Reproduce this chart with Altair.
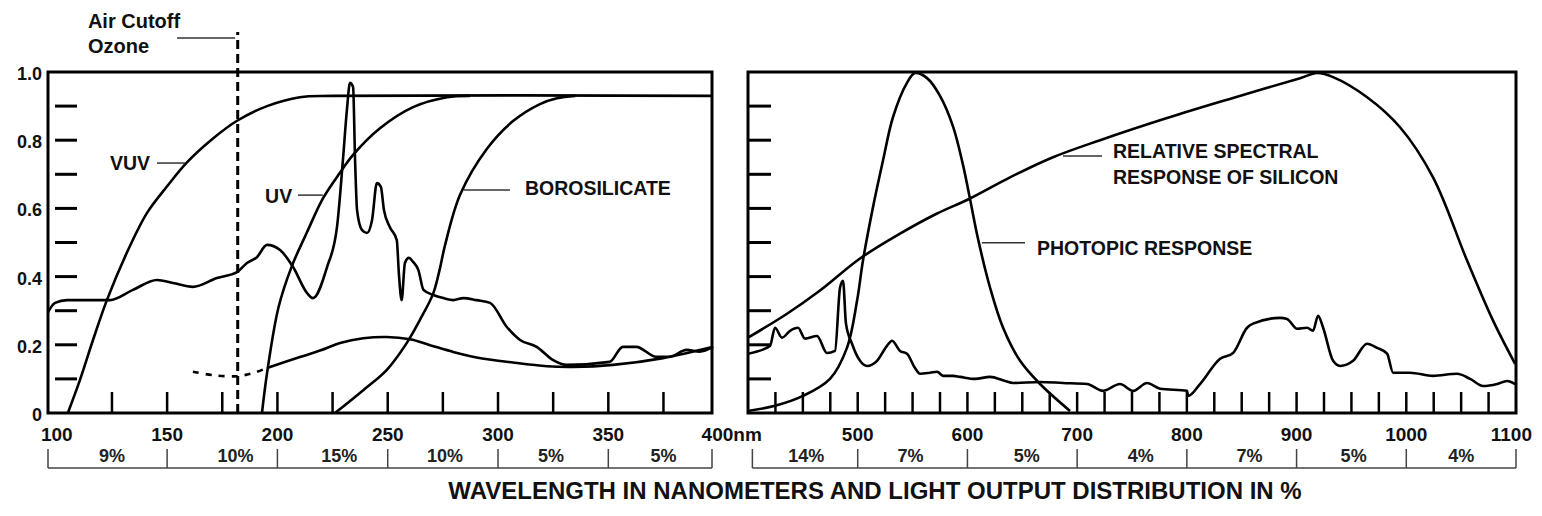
import altair as alt
import pandas as pd

FONT = "Liberation Sans"

# ---------------- data ----------------
# Left panel (wavelength in nm, relative value)
vuv_nm = [105, 110.5, 116.4, 122.7, 132.3, 140.9, 150, 159, 170.8, 181.7, 195.3, 210.2, 225.2, 397]
vuv_val = [0, 0.097, 0.214, 0.331, 0.478, 0.587, 0.665, 0.735, 0.805, 0.857, 0.9, 0.926, 0.93, 0.93]

uv_nm = [193, 195.3, 200.5, 206.5, 213.4, 220.7, 228.4, 234.3, 246.5, 261.5, 276.9, 287.3]
uv_val = [0, 0.117, 0.31, 0.43, 0.53, 0.63, 0.705, 0.757, 0.835, 0.897, 0.926, 0.93]

boro_nm = [226.1, 238.9, 249.5, 258.6, 264.6, 270.6, 273.7, 275.9, 282.8, 295, 306.8, 319, 326.7, 335]
boro_val = [0, 0.067, 0.126, 0.205, 0.273, 0.35, 0.425, 0.49, 0.64, 0.775, 0.856, 0.906, 0.923, 0.93]

lamp_l_nm = [96, 99.2, 104.6, 116.4, 124.1, 134.5, 145.4, 152.7, 161.7, 172.6, 181.7, 186.2, 190.7,
             195.3, 201.2, 207.1, 213.4, 216.1, 222.5, 227, 229.7, 231.5, 232.9, 234.3, 235.2, 236.1,
             238.3, 240.6, 242.9, 245.1, 246.9, 248.3, 251, 254.1, 255.1, 256.3, 257.8, 259.6, 261.5,
             263.9, 266.2, 270.7, 275.2, 279.7, 284.3, 290.3, 296.4, 303.9, 310, 317.5, 325, 331.1,
             350.6, 356.6, 362.7, 371.7, 377.7, 385.5, 391.4, 397.5]
lamp_l_val = [0.296, 0.323, 0.331, 0.331, 0.331, 0.361, 0.39, 0.381, 0.37, 0.396, 0.413, 0.44, 0.457,
              0.493, 0.478, 0.428, 0.352, 0.337, 0.428, 0.545, 0.742, 0.889, 0.968, 0.956, 0.742, 0.595,
              0.537, 0.528, 0.566, 0.674, 0.663, 0.595, 0.545, 0.507, 0.405, 0.331, 0.44, 0.455, 0.443,
              0.419, 0.361, 0.346, 0.337, 0.331, 0.337, 0.331, 0.323, 0.253, 0.214, 0.194, 0.155, 0.141,
              0.15, 0.194, 0.194, 0.165, 0.165, 0.185, 0.18, 0.194]

trans_dot_nm = [161.7, 170.8, 181.7, 188.9, 195.3]
trans_dot_val = [0.121, 0.111, 0.108, 0.117, 0.132]
trans_nm = [195.3, 210.2, 219.3, 228.4, 238.9, 249.5, 260.1, 269.2, 279.7, 290.3, 306.8, 322.2, 334,
            352.1, 374.8, 397.5]
trans_val = [0.132, 0.164, 0.183, 0.205, 0.219, 0.223, 0.216, 0.199, 0.179, 0.163, 0.148, 0.137, 0.135,
             0.141, 0.161, 0.194]

ozone_cutoff_nm = 182

# Right panel
photopic_nm = [400, 424.6, 450.1, 474.7, 490.2, 499.4, 504.8, 513.9, 523.1, 532.2, 544.9, 552.2, 563.2,
               575, 586.9, 596, 602.4, 609.7, 620.6, 632.5, 648, 666.2, 693.5]
photopic_val = [0.006, 0.021, 0.05, 0.1, 0.191, 0.329, 0.447, 0.603, 0.741, 0.868, 0.968, 0.997, 0.982,
                0.93, 0.84, 0.727, 0.627, 0.51, 0.368, 0.25, 0.153, 0.085, 0.006]

silicon_nm = [400, 435.6, 465.6, 502.1, 538.6, 572.3, 602.4, 638.8, 678, 720.9, 781.9, 842.1, 903.2,
              918.7, 933.3, 964.3, 994.3, 1024.4, 1055.4, 1079.1, 1099.2]
silicon_val = [0.221, 0.291, 0.359, 0.453, 0.526, 0.585, 0.629, 0.691, 0.75, 0.8, 0.865, 0.924, 0.982,
               0.997, 0.985, 0.926, 0.838, 0.691, 0.447, 0.271, 0.144]

lamp_r_nm = [400, 420.1, 424.6, 431, 438.3, 445.6, 452, 462.9, 472, 479.3, 483.9, 486.6, 489.3, 494.8,
             502.1, 508.5, 517.6, 526.7, 531.3, 538.6, 544.9, 552.2, 556.8, 565.9, 572.3, 577.8, 586.9,
             593.3, 606.9, 620.6, 634.3, 641.6, 666.2, 687.1, 709, 723.6, 739.1, 751, 763.7, 775.6,
             800.2, 801.1, 812, 830.3, 842.1, 854.9, 860.3, 885, 891.3, 900.5, 909.6, 915, 919.6, 924.2,
             933.3, 939.7, 951.5, 964.3, 973.4, 982.5, 988, 1003.5, 1024.4, 1046.3, 1058.2, 1070,
             1082.8, 1091.9, 1099.2]
lamp_r_val = [0.174, 0.197, 0.25, 0.221, 0.241, 0.25, 0.218, 0.226, 0.176, 0.182, 0.368, 0.388, 0.262,
              0.203, 0.153, 0.138, 0.153, 0.197, 0.212, 0.182, 0.174, 0.132, 0.115, 0.118, 0.121, 0.109,
              0.109, 0.106, 0.1, 0.106, 0.094, 0.088, 0.091, 0.088, 0.085, 0.065, 0.085, 0.065, 0.088,
              0.071, 0.065, 0.05, 0.085, 0.159, 0.176, 0.25, 0.262, 0.279, 0.276, 0.247, 0.25, 0.241,
              0.285, 0.25, 0.153, 0.138, 0.153, 0.203, 0.191, 0.174, 0.118, 0.118, 0.109, 0.115, 0.1,
              0.079, 0.085, 0.094, 0.085]

# Axis ticks / labels
left_tick_nm = [125, 150, 175, 200, 225, 250, 275, 300, 325, 350, 375]
right_tick_nm = [425, 450, 475, 500, 525, 550, 575, 600, 625, 650, 675, 700, 725, 750, 775, 800, 825,
                 850, 875, 900, 925, 950, 975, 1000, 1025, 1050, 1075]
y_tick_vals = [0.1, 0.2, 0.3, 0.4, 0.5, 0.6, 0.7, 0.8, 0.9]
y_label_vals = [1.0, 0.8, 0.6, 0.4, 0.2, 0.0]
y_label_text = ["1.0", "0.8", "0.6", "0.4", "0.2", "0"]
left_label_nm = [100, 150, 200, 250, 300, 350]
right_label_nm = [500, 600, 700, 800, 900, 1000]

# Light output distribution bands
left_band_edges = [96, 150, 200, 250, 300, 350, 397]
left_band_pos = [125, 181, 228, 276, 324, 375]
left_band_text = ["9%", "10%", "15%", "10%", "5%", "5%"]
right_band_edges = [404, 500, 600, 700, 800, 900, 1000, 1100]
right_band_pos = [453, 548, 654, 758, 857, 952, 1050]
right_band_text = ["14%", "7%", "5%", "4%", "7%", "5%", "4%"]

# ---------------- scales ----------------
LX = alt.Scale(domain=[96, 397], range=[0, 664], nice=False, zero=False)
RX = alt.Scale(domain=[400, 1100], range=[700, 1468], nice=False, zero=False)
YS = alt.Scale(domain=[0, 1], nice=False, zero=False)
H = 341
LW = 2.6


def xenc(field, sc):
    return alt.X(field, type="quantitative", scale=sc, axis=None)


def yenc(field):
    return alt.Y(field, type="quantitative", scale=YS, axis=None)


def curve(nm, val, sc, dash=None, interp="catmull-rom"):
    df = pd.DataFrame({"nm": nm, "v": val})
    kw = dict(color="black", strokeWidth=LW, interpolate=interp, clip=False)
    if dash:
        kw["strokeDash"] = dash
    return alt.Chart(df).mark_line(**kw).encode(x=xenc("nm", sc), y=yenc("v"))


layers = []

# frames
for sc, (a, b) in [(LX, (96, 397)), (RX, (400, 1100))]:
    df = pd.DataFrame({"a": [a], "b": [b], "y0": [0.0], "y1": [1.0]})
    layers.append(alt.Chart(df).mark_rect(fillOpacity=0, stroke="black", strokeWidth=3).encode(
        x=xenc("a", sc), x2="b", y=yenc("y0"), y2="y1"))

# inner y ticks
for sc, start, o1, o2 in [(LX, 96, 7, 29), (RX, 400, 0, 23)]:
    df = pd.DataFrame({"v": y_tick_vals, "s": [start] * len(y_tick_vals)})
    layers.append(alt.Chart(df).mark_rule(color="black", strokeWidth=3, xOffset=o1, x2Offset=o2).encode(
        x=xenc("s", sc), x2="s", y=yenc("v")))

# inner x ticks
for sc, ticks in [(LX, left_tick_nm), (RX, right_tick_nm)]:
    df = pd.DataFrame({"nm": ticks, "z": [0.0] * len(ticks)})
    layers.append(alt.Chart(df).mark_rule(color="black", strokeWidth=2.5, y2Offset=-21).encode(
        x=xenc("nm", sc), y=yenc("z"), y2="z"))

# curves
layers += [
    curve(vuv_nm, vuv_val, LX),
    curve(uv_nm, uv_val, LX),
    curve(boro_nm, boro_val, LX),
    curve(lamp_l_nm, lamp_l_val, LX, interp="monotone"),
    curve(trans_nm, trans_val, LX),
    curve(trans_dot_nm, trans_dot_val, LX, dash=[6, 7]),
    curve(photopic_nm, photopic_val, RX),
    curve(silicon_nm, silicon_val, RX),
    curve(lamp_r_nm, lamp_r_val, RX, interp="monotone"),
]

# ozone cutoff dashed line
oz = pd.DataFrame({"nm": [ozone_cutoff_nm], "z": [0.0]})
layers.append(alt.Chart(oz).mark_rule(color="black", strokeWidth=3, strokeDash=[9, 5]).encode(
    x=xenc("nm", LX), y=yenc("z"), y2=alt.value(-40)))

# leader lines (annotation)
leaders_l = pd.DataFrame({"a": [154.5, 145.4, 209.3, 284.5],
                          "b": [180.8, 158.1, 220.6, 305.4],
                          "v": [1.100, 0.733, 0.639, 0.654]})
layers.append(alt.Chart(leaders_l).mark_rule(color="#333", strokeWidth=1.5).encode(
    x=xenc("a", LX), x2="b", y=yenc("v")))
leaders_r = pd.DataFrame({"a": [687.1, 613.3], "b": [722.7, 652.5], "v": [0.754, 0.499]})
layers.append(alt.Chart(leaders_r).mark_rule(color="#333", strokeWidth=1.5).encode(
    x=xenc("a", RX), x2="b", y=yenc("v")))

# annotation texts
ann_l = pd.DataFrame({"nm": [114.1, 114.1, 124.1, 194.4, 312.2],
                      "v": [1.129, 1.056, 0.713, 0.616, 0.639],
                      "t": ["Air Cutoff", "Ozone", "VUV", "UV", "BOROSILICATE"],
                      "fs": [20, 20, 19.5, 19.5, 19.5]})
layers.append(alt.Chart(ann_l).mark_text(align="left", baseline="alphabetic", font=FONT,
                                          fontWeight="bold", color="#111").encode(
    x=xenc("nm", LX), y=yenc("v"), text="t:N", size=alt.Size("fs:Q", scale=None, legend=None)))
ann_r = pd.DataFrame({"nm": [732.7, 732.7, 663.4],
                      "v": [0.748, 0.672, 0.463],
                      "t": ["RELATIVE SPECTRAL", "RESPONSE OF SILICON", "PHOTOPIC RESPONSE"]})
layers.append(alt.Chart(ann_r).mark_text(align="left", baseline="alphabetic", font=FONT,
                                          fontWeight="bold", fontSize=19.5, color="#111").encode(
    x=xenc("nm", RX), y=yenc("v"), text="t:N"))

# y labels
yl = pd.DataFrame({"v": y_label_vals, "t": y_label_text, "s": [96] * len(y_label_vals)})
layers.append(alt.Chart(yl).mark_text(align="right", baseline="middle", dx=-6, dy=3, font=FONT,
                                       fontWeight="bold", fontSize=18, color="#111").encode(
    x=xenc("s", LX), y=yenc("v"), text="t:N"))

# x labels
xl = pd.DataFrame({"nm": left_label_nm, "t": [str(v) for v in left_label_nm]})
layers.append(alt.Chart(xl).mark_text(align="center", baseline="middle", font=FONT, fontWeight="bold",
                                       fontSize=19, color="#111").encode(
    x=xenc("nm", LX), y=alt.value(H + 22), text="t:N"))
xl4 = pd.DataFrame({"nm": [400], "t": ["400nm"]})
layers.append(alt.Chart(xl4).mark_text(align="left", baseline="middle", dx=-17, font=FONT,
                                        fontWeight="bold", fontSize=19, color="#111").encode(
    x=xenc("nm", LX), y=alt.value(H + 22), text="t:N"))
xr = pd.DataFrame({"nm": right_label_nm, "t": [str(v) for v in right_label_nm]})
layers.append(alt.Chart(xr).mark_text(align="center", baseline="middle", font=FONT, fontWeight="bold",
                                       fontSize=19, color="#111").encode(
    x=xenc("nm", RX), y=alt.value(H + 22), text="t:N"))
xr11 = pd.DataFrame({"nm": [1100], "t": ["1100"]})
layers.append(alt.Chart(xr11).mark_text(align="right", baseline="middle", dx=16, font=FONT,
                                         fontWeight="bold", fontSize=19, color="#111").encode(
    x=xenc("nm", RX), y=alt.value(H + 22), text="t:N"))

# distribution brackets
for sc, edges, pos, txt in [(LX, left_band_edges, left_band_pos, left_band_text),
                            (RX, right_band_edges, right_band_pos, right_band_text)]:
    hb = pd.DataFrame({"a": [edges[0]], "b": [edges[-1]]})
    layers.append(alt.Chart(hb).mark_rule(color="#444", strokeWidth=1.5).encode(
        x=xenc("a", sc), x2="b", y=alt.value(H + 55)))
    vb = pd.DataFrame({"nm": edges})
    layers.append(alt.Chart(vb).mark_rule(color="#444", strokeWidth=1.5).encode(
        x=xenc("nm", sc), y=alt.value(H + 36), y2=alt.value(H + 55)))
    tb = pd.DataFrame({"nm": pos, "t": txt})
    layers.append(alt.Chart(tb).mark_text(align="center", baseline="middle", font=FONT,
                                           fontWeight="bold", fontSize=18, color="#222").encode(
        x=xenc("nm", sc), y=alt.value(H + 44), text="t:N"))

# bottom title
tt = pd.DataFrame({"t": ["WAVELENGTH IN NANOMETERS AND LIGHT OUTPUT DISTRIBUTION IN %"]})
layers.append(alt.Chart(tt).mark_text(align="center", baseline="alphabetic", font=FONT,
                                       fontWeight="bold", fontSize=24, color="#111").encode(
    x=alt.value(827), y=alt.value(H + 86), text="t:N"))

chart = alt.layer(*layers).resolve_scale(x="independent").properties(
    width=1468, height=H,
    padding={"left": 40, "top": 64, "right": 18, "bottom": 91},
    autosize=alt.AutoSizeParams(type="none"),
    background="white",
).configure_view(stroke=None)

chart.save("out.html", embed_options={"renderer": "svg", "actions": False})
